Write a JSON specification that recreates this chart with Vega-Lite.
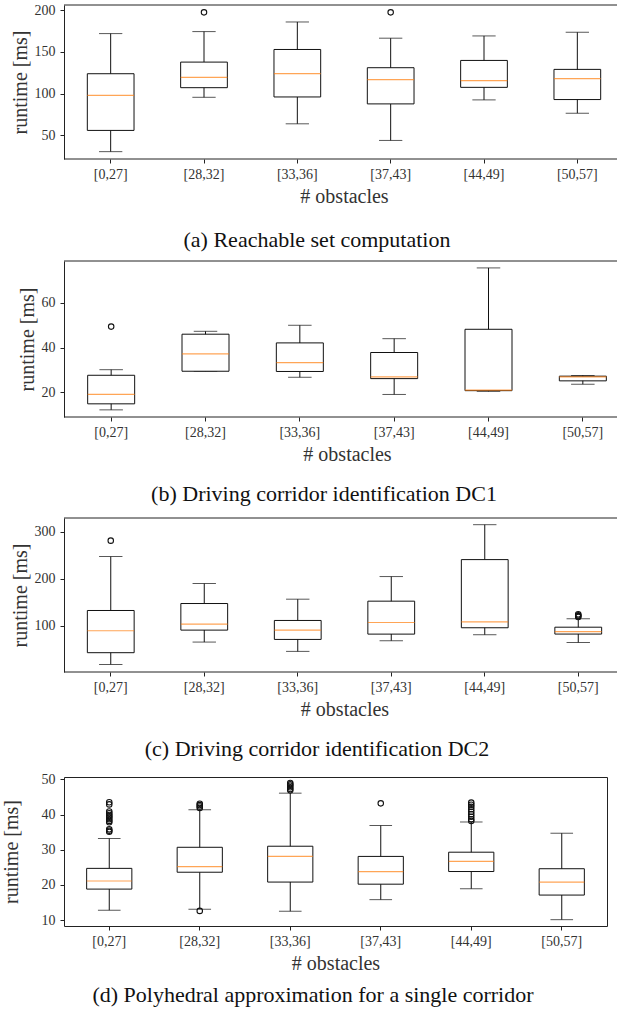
{
  "$schema": "https://vega.github.io/schema/vega-lite/v6.json",
  "background": "white",
  "padding": {"left": 0, "top": 3, "right": 0, "bottom": 0},
  "datasets": {
    "a_box": [
      {"cat": "[0,27]", "lo": 30.6, "q1": 56, "med": 98, "q3": 123.8, "hi": 171.8},
      {"cat": "[28,32]", "lo": 95.6, "q1": 107.1, "med": 119.4, "q3": 137.7, "hi": 174.2},
      {"cat": "[33,36]", "lo": 63.9, "q1": 96, "med": 123.8, "q3": 152.8, "hi": 185.7},
      {"cat": "[37,43]", "lo": 44, "q1": 87.7, "med": 116.7, "q3": 131, "hi": 166.3},
      {"cat": "[44,49]", "lo": 92.5, "q1": 107.5, "med": 115.5, "q3": 139.7, "hi": 169},
      {"cat": "[50,57]", "lo": 76.6, "q1": 92.9, "med": 117.9, "q3": 129, "hi": 173.4}
    ],
    "a_out": [
      {"cat": "[28,32]", "v": 197.2},
      {"cat": "[37,43]", "v": 197.2}
    ],
    "b_box": [
      {"cat": "[0,27]", "lo": 12.1, "q1": 14.8, "med": 19, "q3": 27.6, "hi": 30.1},
      {"cat": "[28,32]", "lo": 29.4, "q1": 29.4, "med": 37.2, "q3": 46, "hi": 47.3},
      {"cat": "[33,36]", "lo": 26.7, "q1": 29.3, "med": 33.3, "q3": 42.1, "hi": 50},
      {"cat": "[37,43]", "lo": 19, "q1": 26.1, "med": 26.9, "q3": 37.8, "hi": 44},
      {"cat": "[44,49]", "lo": 20.4, "q1": 20.7, "med": 20.9, "q3": 48.2, "hi": 75.7},
      {"cat": "[50,57]", "lo": 23.6, "q1": 25.1, "med": 26.9, "q3": 27.2, "hi": 27.5}
    ],
    "b_out": [
      {"cat": "[0,27]", "v": 49.4}
    ],
    "c_box": [
      {"cat": "[0,27]", "lo": 18, "q1": 42.8, "med": 89.4, "q3": 132.5, "hi": 247},
      {"cat": "[28,32]", "lo": 65.4, "q1": 90.8, "med": 103.5, "q3": 147.3, "hi": 189.8},
      {"cat": "[33,36]", "lo": 45.6, "q1": 71, "med": 90.8, "q3": 111.3, "hi": 156.5},
      {"cat": "[37,43]", "lo": 68.2, "q1": 82.3, "med": 107, "q3": 152.3, "hi": 204.6},
      {"cat": "[44,49]", "lo": 81, "q1": 95.8, "med": 108.5, "q3": 240.6, "hi": 314.8},
      {"cat": "[50,57]", "lo": 64.6, "q1": 82.4, "med": 87.6, "q3": 97, "hi": 115.2}
    ],
    "c_out": [
      {"cat": "[0,27]", "v": 280.9},
      {"cat": "[50,57]", "v": 124.5},
      {"cat": "[50,57]", "v": 122.5},
      {"cat": "[50,57]", "v": 120.5},
      {"cat": "[50,57]", "v": 118.6}
    ],
    "d_box": [
      {"cat": "[0,27]", "lo": 12.8, "q1": 18.8, "med": 21.1, "q3": 24.7, "hi": 33.2},
      {"cat": "[28,32]", "lo": 13.1, "q1": 23.6, "med": 25.2, "q3": 30.7, "hi": 41.4},
      {"cat": "[33,36]", "lo": 12.5, "q1": 20.8, "med": 28.1, "q3": 31, "hi": 46.1},
      {"cat": "[37,43]", "lo": 15.8, "q1": 20.2, "med": 23.8, "q3": 28.1, "hi": 36.9},
      {"cat": "[44,49]", "lo": 18.9, "q1": 23.8, "med": 26.7, "q3": 29.3, "hi": 37.9},
      {"cat": "[50,57]", "lo": 10.1, "q1": 17.1, "med": 20.8, "q3": 24.6, "hi": 34.7}
    ],
    "d_out": [
      {"cat": "[0,27]", "v": 43.5},
      {"cat": "[0,27]", "v": 42.9},
      {"cat": "[0,27]", "v": 40.9},
      {"cat": "[0,27]", "v": 40.4},
      {"cat": "[0,27]", "v": 39.9},
      {"cat": "[0,27]", "v": 39.5},
      {"cat": "[0,27]", "v": 39.1},
      {"cat": "[0,27]", "v": 38.7},
      {"cat": "[0,27]", "v": 38.2},
      {"cat": "[0,27]", "v": 37.8},
      {"cat": "[0,27]", "v": 35.8},
      {"cat": "[0,27]", "v": 35.4},
      {"cat": "[0,27]", "v": 35.1},
      {"cat": "[28,32]", "v": 43.1},
      {"cat": "[28,32]", "v": 42.7},
      {"cat": "[28,32]", "v": 42.3},
      {"cat": "[28,32]", "v": 41.9},
      {"cat": "[28,32]", "v": 12.6},
      {"cat": "[33,36]", "v": 49.0},
      {"cat": "[33,36]", "v": 48.6},
      {"cat": "[33,36]", "v": 48.2},
      {"cat": "[33,36]", "v": 47.8},
      {"cat": "[33,36]", "v": 47.3},
      {"cat": "[33,36]", "v": 46.9},
      {"cat": "[37,43]", "v": 43.2},
      {"cat": "[44,49]", "v": 43.4},
      {"cat": "[44,49]", "v": 42.8},
      {"cat": "[44,49]", "v": 42.2},
      {"cat": "[44,49]", "v": 41.5},
      {"cat": "[44,49]", "v": 40.8},
      {"cat": "[44,49]", "v": 40.1},
      {"cat": "[44,49]", "v": 39.4},
      {"cat": "[44,49]", "v": 38.7},
      {"cat": "[44,49]", "v": 38.2}
    ],
    "one": [{}]
  },
  "vconcat": [
    {
      "spacing": 11,
      "vconcat": [
        {
          "spacing": 12,
          "vconcat": [
            {
              "spacing": 9,
              "vconcat": [
                {
                  "width": 555,
                  "height": 154,
                  "title": {"text": "(a) Reachable set computation", "orient": "bottom", "offset": 24, "dx": -24.5},
                  "layer": [
                    {"data": {"name": "a_box"}, "mark": {"type": "rule", "color": "#111", "strokeWidth": 1}, "encoding": {"x": {"field": "cat", "type": "nominal", "sort": null, "scale": {"domain": ["[0,27]", "[28,32]", "[33,36]", "[37,43]", "[44,49]", "[50,57]"], "range": [0, 560], "paddingInner": 0, "paddingOuter": 0}, "axis": {"title": "# obstacles"}}, "y": {"field": "lo", "type": "quantitative", "scale": {"domain": [21.8, 206], "nice": false, "zero": false}, "axis": {"title": "runtime [ms]", "values": [50, 100, 150, 200], "tickCount": 10, "titlePadding": 4}}, "y2": {"field": "hi"}}},
                    {"data": {"name": "a_box"}, "mark": {"type": "tick", "color": "#111", "size": 23.3, "thickness": 1}, "encoding": {"x": {"field": "cat", "type": "nominal"}, "y": {"field": "lo", "type": "quantitative"}}},
                    {"data": {"name": "a_box"}, "mark": {"type": "tick", "color": "#111", "size": 23.3, "thickness": 1}, "encoding": {"x": {"field": "cat", "type": "nominal"}, "y": {"field": "hi", "type": "quantitative"}}},
                    {"data": {"name": "a_box"}, "mark": {"type": "bar", "size": 46.7, "fill": "white", "stroke": "#111", "strokeWidth": 1}, "encoding": {"x": {"field": "cat", "type": "nominal"}, "y": {"field": "q1", "type": "quantitative"}, "y2": {"field": "q3"}}},
                    {"data": {"name": "a_box"}, "mark": {"type": "tick", "color": "#ff7f0e", "size": 46.7, "thickness": 1.2}, "encoding": {"x": {"field": "cat", "type": "nominal"}, "y": {"field": "med", "type": "quantitative"}}},
                    {"data": {"name": "a_out"}, "mark": {"type": "point", "shape": "circle", "filled": false, "stroke": "#111", "strokeWidth": 1.1, "size": 30, "opacity": 1}, "encoding": {"x": {"field": "cat", "type": "nominal"}, "y": {"field": "v", "type": "quantitative"}}},
                    {"data": {"name": "one"}, "mark": {"type": "rule", "color": "#222", "strokeWidth": 1}, "encoding": {"y": {"datum": 206, "type": "quantitative"}}},
                    {"data": {"name": "one"}, "mark": {"type": "rule", "color": "#222", "strokeWidth": 1}, "encoding": {"y": {"datum": 21.8, "type": "quantitative"}}}
                  ]
                },
                {
                  "width": 562,
                  "height": 156,
                  "title": {"text": "(b) Driving corridor identification DC1", "orient": "bottom", "offset": 20, "dx": -21},
                  "layer": [
                    {"data": {"name": "b_box"}, "mark": {"type": "rule", "color": "#111", "strokeWidth": 1}, "encoding": {"x": {"field": "cat", "type": "nominal", "sort": null, "scale": {"domain": ["[0,27]", "[28,32]", "[33,36]", "[37,43]", "[44,49]", "[50,57]"], "range": [0, 566], "paddingInner": 0, "paddingOuter": 0}, "axis": {"title": "# obstacles"}}, "y": {"field": "lo", "type": "quantitative", "scale": {"domain": [8.9, 78.8], "nice": false, "zero": false}, "axis": {"title": "runtime [ms]", "values": [20, 40, 60], "tickCount": 10, "titlePadding": 4}}, "y2": {"field": "hi"}}},
                    {"data": {"name": "b_box"}, "mark": {"type": "tick", "color": "#111", "size": 23.5, "thickness": 1}, "encoding": {"x": {"field": "cat", "type": "nominal"}, "y": {"field": "lo", "type": "quantitative"}}},
                    {"data": {"name": "b_box"}, "mark": {"type": "tick", "color": "#111", "size": 23.5, "thickness": 1}, "encoding": {"x": {"field": "cat", "type": "nominal"}, "y": {"field": "hi", "type": "quantitative"}}},
                    {"data": {"name": "b_box"}, "mark": {"type": "bar", "size": 47, "fill": "white", "stroke": "#111", "strokeWidth": 1}, "encoding": {"x": {"field": "cat", "type": "nominal"}, "y": {"field": "q1", "type": "quantitative"}, "y2": {"field": "q3"}}},
                    {"data": {"name": "b_box"}, "mark": {"type": "tick", "color": "#ff7f0e", "size": 47, "thickness": 1.2}, "encoding": {"x": {"field": "cat", "type": "nominal"}, "y": {"field": "med", "type": "quantitative"}}},
                    {"data": {"name": "b_out"}, "mark": {"type": "point", "shape": "circle", "filled": false, "stroke": "#111", "strokeWidth": 1.1, "size": 30, "opacity": 1}, "encoding": {"x": {"field": "cat", "type": "nominal"}, "y": {"field": "v", "type": "quantitative"}}},
                    {"data": {"name": "one"}, "mark": {"type": "rule", "color": "#222", "strokeWidth": 1}, "encoding": {"y": {"datum": 78.8, "type": "quantitative"}}},
                    {"data": {"name": "one"}, "mark": {"type": "rule", "color": "#222", "strokeWidth": 1}, "encoding": {"y": {"datum": 8.9, "type": "quantitative"}}}
                  ]
                }
              ]
            },
            {
              "width": 555,
              "height": 154,
              "title": {"text": "(c) Driving corridor identification DC2", "orient": "bottom", "offset": 20, "dx": -24.5},
              "layer": [
                {"data": {"name": "c_box"}, "mark": {"type": "rule", "color": "#111", "strokeWidth": 1}, "encoding": {"x": {"field": "cat", "type": "nominal", "sort": null, "scale": {"domain": ["[0,27]", "[28,32]", "[33,36]", "[37,43]", "[44,49]", "[50,57]"], "range": [0, 561], "paddingInner": 0, "paddingOuter": 0}, "axis": {"title": "# obstacles"}}, "y": {"field": "lo", "type": "quantitative", "scale": {"domain": [1.8, 329], "nice": false, "zero": false}, "axis": {"title": "runtime [ms]", "values": [100, 200, 300], "tickCount": 10, "titlePadding": 4}}, "y2": {"field": "hi"}}},
                {"data": {"name": "c_box"}, "mark": {"type": "tick", "color": "#111", "size": 23.4, "thickness": 1}, "encoding": {"x": {"field": "cat", "type": "nominal"}, "y": {"field": "lo", "type": "quantitative"}}},
                {"data": {"name": "c_box"}, "mark": {"type": "tick", "color": "#111", "size": 23.4, "thickness": 1}, "encoding": {"x": {"field": "cat", "type": "nominal"}, "y": {"field": "hi", "type": "quantitative"}}},
                {"data": {"name": "c_box"}, "mark": {"type": "bar", "size": 46.8, "fill": "white", "stroke": "#111", "strokeWidth": 1}, "encoding": {"x": {"field": "cat", "type": "nominal"}, "y": {"field": "q1", "type": "quantitative"}, "y2": {"field": "q3"}}},
                {"data": {"name": "c_box"}, "mark": {"type": "tick", "color": "#ff7f0e", "size": 46.8, "thickness": 1.2}, "encoding": {"x": {"field": "cat", "type": "nominal"}, "y": {"field": "med", "type": "quantitative"}}},
                {"data": {"name": "c_out"}, "mark": {"type": "point", "shape": "circle", "filled": false, "stroke": "#111", "strokeWidth": 1.1, "size": 30, "opacity": 1}, "encoding": {"x": {"field": "cat", "type": "nominal"}, "y": {"field": "v", "type": "quantitative"}}},
                {"data": {"name": "one"}, "mark": {"type": "rule", "color": "#222", "strokeWidth": 1}, "encoding": {"y": {"datum": 329, "type": "quantitative"}}},
                {"data": {"name": "one"}, "mark": {"type": "rule", "color": "#222", "strokeWidth": 1}, "encoding": {"y": {"datum": 1.8, "type": "quantitative"}}}
              ]
            }
          ]
        },
        {
          "width": 543,
          "height": 149,
          "view": {"stroke": "#222", "strokeWidth": 1},
          "title": {"text": "(d) Polyhedral approximation for a single corridor", "orient": "bottom", "offset": 12, "dx": -22.5},
          "layer": [
            {"data": {"name": "d_box"}, "mark": {"type": "rule", "color": "#111", "strokeWidth": 1}, "encoding": {"x": {"field": "cat", "type": "nominal", "sort": null, "scale": {"domain": ["[0,27]", "[28,32]", "[33,36]", "[37,43]", "[44,49]", "[50,57]"], "paddingInner": 0, "paddingOuter": 0}, "axis": {"title": "# obstacles"}}, "y": {"field": "lo", "type": "quantitative", "scale": {"domain": [8.3, 50.7], "nice": false, "zero": false}, "axis": {"title": "runtime [ms]", "values": [10, 20, 30, 40, 50], "tickCount": 10, "titlePadding": 20, "domain": false}}, "y2": {"field": "hi"}}},
            {"data": {"name": "d_box"}, "mark": {"type": "tick", "color": "#111", "size": 22.6, "thickness": 1}, "encoding": {"x": {"field": "cat", "type": "nominal"}, "y": {"field": "lo", "type": "quantitative"}}},
            {"data": {"name": "d_box"}, "mark": {"type": "tick", "color": "#111", "size": 22.6, "thickness": 1}, "encoding": {"x": {"field": "cat", "type": "nominal"}, "y": {"field": "hi", "type": "quantitative"}}},
            {"data": {"name": "d_box"}, "mark": {"type": "bar", "size": 45.2, "fill": "white", "stroke": "#111", "strokeWidth": 1}, "encoding": {"x": {"field": "cat", "type": "nominal"}, "y": {"field": "q1", "type": "quantitative"}, "y2": {"field": "q3"}}},
            {"data": {"name": "d_box"}, "mark": {"type": "tick", "color": "#ff7f0e", "size": 45.2, "thickness": 1.2}, "encoding": {"x": {"field": "cat", "type": "nominal"}, "y": {"field": "med", "type": "quantitative"}}},
            {"data": {"name": "d_out"}, "mark": {"type": "point", "shape": "circle", "filled": false, "stroke": "#111", "strokeWidth": 1.1, "size": 30, "opacity": 1}, "encoding": {"x": {"field": "cat", "type": "nominal"}, "y": {"field": "v", "type": "quantitative"}}}
          ]
        }
      ]
    }
  ],
  "config": {
    "font": "Liberation Serif",
    "view": {"stroke": null},
    "axis": {
      "domain": false,
      "grid": false,
      "labelFont": "Liberation Serif",
      "labelFontSize": 14,
      "labelColor": "#333",
      "labelOverlap": false,
      "titleFont": "Liberation Serif",
      "titleFontSize": 20,
      "titleFontWeight": "normal",
      "titleColor": "#333",
      "tickColor": "#222",
      "tickSize": 4,
      "tickWidth": 1,
      "labelPadding": 4,
      "minExtent": 0,
      "maxExtent": 200
    },
    "axisX": {"labelAngle": 0, "titlePadding": 5},
    "axisY": {"labelPadding": 5, "domain": true, "domainColor": "#222", "domainWidth": 1},
    "title": {"font": "Liberation Serif", "fontSize": 22, "fontWeight": "normal", "color": "#111", "anchor": "middle", "frame": "group"}
  }
}
